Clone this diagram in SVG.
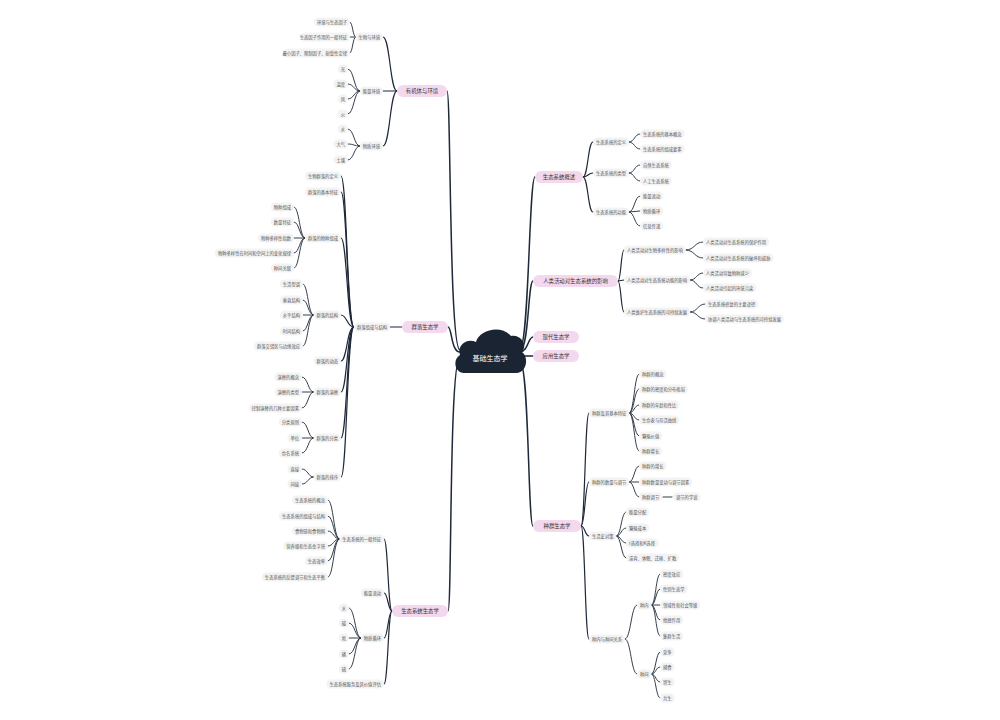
<svg xmlns="http://www.w3.org/2000/svg" width="1000" height="720" viewBox="0 0 1000 720">
<style>
.bg{fill:#ffffff}
.p{fill:#f3f3f3}
.t{font-family:"Noto Sans CJK SC","Noto Sans",sans-serif;font-size:4.3px;fill:#555555;dominant-baseline:central}
.e{text-anchor:end}
.b{fill:#f4d8ee}
.bt{font-family:"Noto Sans CJK SC","Noto Sans",sans-serif;font-size:5.4px;fill:#333333;text-anchor:middle;dominant-baseline:central}
.rt{font-family:"Noto Sans CJK SC","Noto Sans",sans-serif;font-size:7px;fill:#ffffff;text-anchor:middle;dominant-baseline:central}
.c0{fill:none;stroke:#1e2838;stroke-width:1.5;stroke-linecap:round}
.c1{fill:none;stroke:#1e2838;stroke-width:1.2;stroke-linecap:round}
.c2{fill:none;stroke:#1e2838;stroke-width:0.9;stroke-linecap:round}
</style>
<rect class="bg" x="0" y="0" width="1000" height="720"/>
<g id="connectors">
<!-- trunk -->
<path class="c0" d="M460,350 C449,350 451,91 447,91"/>
<path class="c0" d="M460,352 C451,352 452,327 448,327"/>
<path class="c0" d="M460,358 C449,358 452,611 448,611"/>
<path class="c0" d="M520,348 C529,348 529,177 535,177"/>
<path class="c0" d="M520,350 C529,350 528,281 533,281"/>
<path class="c0" d="M520,352 C528,352 528,337 533,337"/>
<path class="c0" d="M520,356 C527,356 528,356 533,356"/>
<path class="c0" d="M520,362 C529,362 528,526 533,526"/>
<!-- A -->
<path class="c1" d="M397,91 C390,91 390,37 383,37"/>
<path class="c1" d="M397,91 C390,91 390,91 383,91"/>
<path class="c1" d="M397,91 C390,91 390,146 383,146"/>
<path class="c2" d="M355.5,37 C352.7,37 352.7,22 350,22"/>
<path class="c2" d="M355.5,37 L350,37"/>
<path class="c2" d="M355.5,37 C352.7,37 352.7,53 350,53"/>
<path class="c2" d="M359.8,91 C354,91 354,69 348,69"/>
<path class="c2" d="M359.8,91 C354,91 354,84 348,84"/>
<path class="c2" d="M359.8,91 C354,91 354,99 348,99"/>
<path class="c2" d="M359.8,91 C354,91 354,114 348,114"/>
<path class="c2" d="M359.8,146 C354,146 354,129 348,129"/>
<path class="c2" d="M359.8,146 C354,146 354,144 348,144"/>
<path class="c2" d="M359.8,146 C354,146 354,160 348,160"/>
<!-- B -->
<path class="c1" d="M402,327 L390,327"/>
<path class="c1" d="M353.9,327 C347,327 347,176 341,176"/>
<path class="c1" d="M353.9,327 C347,327 347,192 341,192"/>
<path class="c1" d="M353.9,327 C347,327 347,238 341,238"/>
<path class="c1" d="M353.9,327 C347,327 347,315 341,315"/>
<path class="c1" d="M353.9,327 C347,327 347,361 341,361"/>
<path class="c1" d="M353.9,327 C347,327 347,392 341,392"/>
<path class="c1" d="M353.9,327 C347,327 347,438 341,438"/>
<path class="c1" d="M353.9,327 C347,327 347,477 341,477"/>
<path class="c2" d="M304.9,238 C299.5,238 299.5,207 294,207"/>
<path class="c2" d="M304.9,238 C299.5,238 299.5,222 294,222"/>
<path class="c2" d="M304.9,238 L294,238"/>
<path class="c2" d="M304.9,238 C299.5,238 299.5,253 294,253"/>
<path class="c2" d="M304.9,238 C299.5,238 299.5,268 294,268"/>
<path class="c2" d="M313.5,315 C308,315 308,284 303,284"/>
<path class="c2" d="M313.5,315 C308,315 308,300 303,300"/>
<path class="c2" d="M313.5,315 L303,315"/>
<path class="c2" d="M313.5,315 C308,315 308,331 303,331"/>
<path class="c2" d="M313.5,315 C308,315 308,346 303,346"/>
<path class="c2" d="M313.5,392 C308,392 308,377 302,377"/>
<path class="c2" d="M313.5,392 L302,392"/>
<path class="c2" d="M313.5,392 C308,392 308,408 302,408"/>
<path class="c2" d="M313.5,438 C308,438 308,422 302,422"/>
<path class="c2" d="M313.5,438 L302,438"/>
<path class="c2" d="M313.5,438 C308,438 308,453 302,453"/>
<path class="c2" d="M313.5,477 C308,477 308,469 302,469"/>
<path class="c2" d="M313.5,477 C308,477 308,484 302,484"/>
<!-- C -->
<path class="c1" d="M392,611 C388,611 388,539 384,539"/>
<path class="c1" d="M392,611 C388,611 388,593 384,593"/>
<path class="c1" d="M392,611 C388,611 388,638 384,638"/>
<path class="c1" d="M392,611 C388,611 388,684 384,684"/>
<path class="c2" d="M339.3,539 C333.6,539 333.6,500 328,500"/>
<path class="c2" d="M339.3,539 C333.6,539 333.6,516 328,516"/>
<path class="c2" d="M339.3,539 C333.6,539 333.6,531 328,531"/>
<path class="c2" d="M339.3,539 C333.6,539 333.6,546 328,546"/>
<path class="c2" d="M339.3,539 C333.6,539 333.6,561 328,561"/>
<path class="c2" d="M339.3,539 C333.6,539 333.6,577 328,577"/>
<path class="c2" d="M360.8,638 C355,638 355,608 349,608"/>
<path class="c2" d="M360.8,638 C355,638 355,623 349,623"/>
<path class="c2" d="M360.8,638 L349,638"/>
<path class="c2" d="M360.8,638 C355,638 355,654 349,654"/>
<path class="c2" d="M360.8,638 C355,638 355,669 349,669"/>
<!-- D -->
<path class="c1" d="M583,177 C588,177 588,142 593,142"/>
<path class="c1" d="M583,177 C588,177 588,173 593,173"/>
<path class="c1" d="M583,177 C588,177 588,212 593,212"/>
<path class="c2" d="M629.1,142 C634.5,142 634.5,134 640,134"/>
<path class="c2" d="M629.1,142 C634.5,142 634.5,149 640,149"/>
<path class="c2" d="M629.1,173 C634.5,173 634.5,165 640,165"/>
<path class="c2" d="M629.1,173 C634.5,173 634.5,181 640,181"/>
<path class="c2" d="M629.1,212 C634.5,212 634.5,196 640,196"/>
<path class="c2" d="M629.1,212 L640,211"/>
<path class="c2" d="M629.1,212 C634.5,212 634.5,226 640,226"/>
<!-- E -->
<path class="c1" d="M618,281 C621,281 621,250 624,250"/>
<path class="c1" d="M618,281 L624,280"/>
<path class="c1" d="M618,281 C621,281 621,312 624,312"/>
<path class="c2" d="M686,250 C694.5,250 694.5,242 703,242"/>
<path class="c2" d="M686,250 C694.5,250 694.5,258 703,258"/>
<path class="c2" d="M690.2,280 C696.6,280 696.6,273 703,273"/>
<path class="c2" d="M690.2,280 C696.6,280 696.6,288 703,288"/>
<path class="c2" d="M690.2,312 C697.6,312 697.6,304 705,304"/>
<path class="c2" d="M690.2,312 C697.6,312 697.6,319 705,319"/>
<!-- H -->
<path class="c1" d="M581,526 C585,526 585,413 589,413"/>
<path class="c1" d="M581,526 C585,526 585,482 589,482"/>
<path class="c1" d="M581,526 C585,526 585,536 589,536"/>
<path class="c1" d="M581,526 C585,526 585,639 589,639"/>
<path class="c2" d="M629.4,413 C634.2,413 634.2,374 639,374"/>
<path class="c2" d="M629.4,413 C634.2,413 634.2,389 639,389"/>
<path class="c2" d="M629.4,413 C634.2,413 634.2,405 639,405"/>
<path class="c2" d="M629.4,413 C634.2,413 634.2,420 639,420"/>
<path class="c2" d="M629.4,413 C634.2,413 634.2,436 639,436"/>
<path class="c2" d="M629.4,413 C634.2,413 634.2,451 639,451"/>
<path class="c2" d="M629.4,482 C634.2,482 634.2,466 639,466"/>
<path class="c2" d="M629.4,482 L639,482"/>
<path class="c2" d="M629.4,482 C634.2,482 634.2,497 639,497"/>
<path class="c2" d="M663,497 L672,497"/>
<path class="c2" d="M616.5,536 C621.2,536 621.2,512 626,512"/>
<path class="c2" d="M616.5,536 C621.2,536 621.2,528 626,528"/>
<path class="c2" d="M616.5,536 C621.2,536 621.2,543 626,543"/>
<path class="c2" d="M616.5,536 C621.2,536 621.2,558 626,558"/>
<path class="c2" d="M625.1,639 C631,639 631,605 637,605"/>
<path class="c2" d="M625.1,639 C631,639 631,674 637,674"/>
<path class="c2" d="M651.6,605 C655.8,605 655.8,574 660,574"/>
<path class="c2" d="M651.6,605 C655.8,605 655.8,589 660,589"/>
<path class="c2" d="M651.6,605 L660,605"/>
<path class="c2" d="M651.6,605 C655.8,605 655.8,620 660,620"/>
<path class="c2" d="M651.6,605 C655.8,605 655.8,636 660,636"/>
<path class="c2" d="M651.6,674 C655.8,674 655.8,652 660,652"/>
<path class="c2" d="M651.6,674 C655.8,674 655.8,667 660,667"/>
<path class="c2" d="M651.6,674 C655.8,674 655.8,682 660,682"/>
<path class="c2" d="M651.6,674 C655.8,674 655.8,698 660,698"/>
</g>

<g id="root">
<path fill="#1b2433" d="M464,373 C455,373 452,360 460,355 C457,345 467,338 476,342 C479,330 501,324 511,336 C521,334 528,345 522,352 C529,357 527,373 516,373 Z"/>
<text class="rt" x="490" y="358">基础生态学</text>
</g>

<!-- LEFT: 有机体与环境 -->
<g id="n-organism"><rect class="b" x="397" y="85" width="50" height="12" rx="6"/><text class="bt" x="422" y="91">有机体与环境</text></g>
<g id="n-a1"><rect class="p" x="355.5" y="32.5" width="27.5" height="9" rx="4.5"/><text class="t e" x="380" y="37">生物与环境</text></g>
<g id="n-a2"><rect class="p" x="359.8" y="86.5" width="23.2" height="9" rx="4.5"/><text class="t e" x="380" y="91">能量环境</text></g>
<g id="n-a3"><rect class="p" x="359.8" y="141.5" width="23.2" height="9" rx="4.5"/><text class="t e" x="380" y="146">物质环境</text></g>
<g id="n-a1-1"><rect class="p" x="313.9" y="17.5" width="36.1" height="9" rx="4.5"/><text class="t e" x="347" y="22">环境与生态因子</text></g>
<g id="n-a1-2"><rect class="p" x="301" y="32.5" width="49" height="9" rx="4.5"/><text class="t e" x="347" y="37">生态因子作用的一般特征</text></g>
<g id="n-a1-3"><rect class="p" x="283.8" y="48.5" width="66.2" height="9" rx="4.5"/><text class="t e" x="347" y="53">最小因子、限制因子、耐受性定律</text></g>
<g id="n-a2-1"><rect class="p" x="337.7" y="64.5" width="10.3" height="9" rx="4.5"/><text class="t e" x="345" y="69">光</text></g>
<g id="n-a2-2"><rect class="p" x="333.4" y="79.5" width="14.6" height="9" rx="4.5"/><text class="t e" x="345" y="84">温度</text></g>
<g id="n-a2-3"><rect class="p" x="337.7" y="94.5" width="10.3" height="9" rx="4.5"/><text class="t e" x="345" y="99">风</text></g>
<g id="n-a2-4"><rect class="p" x="337.7" y="109.5" width="10.3" height="9" rx="4.5"/><text class="t e" x="345" y="114">火</text></g>
<g id="n-a3-1"><rect class="p" x="337.7" y="124.5" width="10.3" height="9" rx="4.5"/><text class="t e" x="345" y="129">水</text></g>
<g id="n-a3-2"><rect class="p" x="333.4" y="139.5" width="14.6" height="9" rx="4.5"/><text class="t e" x="345" y="144">大气</text></g>
<g id="n-a3-3"><rect class="p" x="333.4" y="155.5" width="14.6" height="9" rx="4.5"/><text class="t e" x="345" y="160">土壤</text></g>

<!-- LEFT: 群落生态学 -->
<g id="n-community"><rect class="b" x="402" y="321" width="46" height="12" rx="6"/><text class="bt" x="425" y="327">群落生态学</text></g>
<g id="n-b0"><rect class="p" x="353.9" y="322.5" width="36.1" height="9" rx="4.5"/><text class="t e" x="387" y="327">群落组成与结构</text></g>
<g id="n-b1"><rect class="p" x="304.9" y="171.5" width="36.1" height="9" rx="4.5"/><text class="t e" x="338" y="176">生物群落的定义</text></g>
<g id="n-b2"><rect class="p" x="304.9" y="187.5" width="36.1" height="9" rx="4.5"/><text class="t e" x="338" y="192">群落的基本特征</text></g>
<g id="n-b3"><rect class="p" x="304.9" y="233.5" width="36.1" height="9" rx="4.5"/><text class="t e" x="338" y="238">群落的物种组成</text></g>
<g id="n-b4"><rect class="p" x="313.5" y="310.5" width="27.5" height="9" rx="4.5"/><text class="t e" x="338" y="315">群落的结构</text></g>
<g id="n-b5"><rect class="p" x="313.5" y="356.5" width="27.5" height="9" rx="4.5"/><text class="t e" x="338" y="361">群落的动态</text></g>
<g id="n-b6"><rect class="p" x="313.5" y="387.5" width="27.5" height="9" rx="4.5"/><text class="t e" x="338" y="392">群落的演替</text></g>
<g id="n-b7"><rect class="p" x="313.5" y="433.5" width="27.5" height="9" rx="4.5"/><text class="t e" x="338" y="438">群落的分类</text></g>
<g id="n-b8"><rect class="p" x="313.5" y="472.5" width="27.5" height="9" rx="4.5"/><text class="t e" x="338" y="477">群落的排序</text></g>
<g id="n-b3-1"><rect class="p" x="270.8" y="202.5" width="23.2" height="9" rx="4.5"/><text class="t e" x="291" y="207">物种组成</text></g>
<g id="n-b3-2"><rect class="p" x="270.8" y="217.5" width="23.2" height="9" rx="4.5"/><text class="t e" x="291" y="222">数量特征</text></g>
<g id="n-b3-3"><rect class="p" x="257.9" y="233.5" width="36.1" height="9" rx="4.5"/><text class="t e" x="291" y="238">物种多样性指数</text></g>
<g id="n-b3-4"><rect class="p" x="214.9" y="248.5" width="79.1" height="9" rx="4.5"/><text class="t e" x="291" y="253">物种多样性在时间和空间上的变化规律</text></g>
<g id="n-b3-5"><rect class="p" x="270.8" y="263.5" width="23.2" height="9" rx="4.5"/><text class="t e" x="291" y="268">种间关联</text></g>
<g id="n-b4-1"><rect class="p" x="279.8" y="279.5" width="23.2" height="9" rx="4.5"/><text class="t e" x="300" y="284">生活型谱</text></g>
<g id="n-b4-2"><rect class="p" x="279.8" y="295.5" width="23.2" height="9" rx="4.5"/><text class="t e" x="300" y="300">垂直结构</text></g>
<g id="n-b4-3"><rect class="p" x="279.8" y="310.5" width="23.2" height="9" rx="4.5"/><text class="t e" x="300" y="315">水平结构</text></g>
<g id="n-b4-4"><rect class="p" x="279.8" y="326.5" width="23.2" height="9" rx="4.5"/><text class="t e" x="300" y="331">时间结构</text></g>
<g id="n-b4-5"><rect class="p" x="254" y="341.5" width="49" height="9" rx="4.5"/><text class="t e" x="300" y="346">群落交错区与边缘效应</text></g>
<g id="n-b6-1"><rect class="p" x="274.5" y="372.5" width="27.5" height="9" rx="4.5"/><text class="t e" x="299" y="377">演替的概念</text></g>
<g id="n-b6-2"><rect class="p" x="274.5" y="387.5" width="27.5" height="9" rx="4.5"/><text class="t e" x="299" y="392">演替的类型</text></g>
<g id="n-b6-3"><rect class="p" x="248.7" y="403.5" width="53.3" height="9" rx="4.5"/><text class="t e" x="299" y="408">控制演替的几种主要因素</text></g>
<g id="n-b7-1"><rect class="p" x="278.8" y="417.5" width="23.2" height="9" rx="4.5"/><text class="t e" x="299" y="422">分类原则</text></g>
<g id="n-b7-2"><rect class="p" x="287.4" y="433.5" width="14.6" height="9" rx="4.5"/><text class="t e" x="299" y="438">单位</text></g>
<g id="n-b7-3"><rect class="p" x="278.8" y="448.5" width="23.2" height="9" rx="4.5"/><text class="t e" x="299" y="453">命名系统</text></g>
<g id="n-b8-1"><rect class="p" x="287.4" y="464.5" width="14.6" height="9" rx="4.5"/><text class="t e" x="299" y="469">直接</text></g>
<g id="n-b8-2"><rect class="p" x="287.4" y="479.5" width="14.6" height="9" rx="4.5"/><text class="t e" x="299" y="484">间接</text></g>

<!-- LEFT: 生态系统生态学 -->
<g id="n-ecosystem"><rect class="b" x="392" y="605" width="56" height="12" rx="6"/><text class="bt" x="420" y="611">生态系统生态学</text></g>
<g id="n-c1"><rect class="p" x="339.3" y="534.5" width="44.7" height="9" rx="4.5"/><text class="t e" x="381" y="539">生态系统的一般特征</text></g>
<g id="n-c2"><rect class="p" x="360.8" y="588.5" width="23.2" height="9" rx="4.5"/><text class="t e" x="381" y="593">能量流动</text></g>
<g id="n-c3"><rect class="p" x="360.8" y="633.5" width="23.2" height="9" rx="4.5"/><text class="t e" x="381" y="638">物质循环</text></g>
<g id="n-c4"><rect class="p" x="326.4" y="679.5" width="57.6" height="9" rx="4.5"/><text class="t e" x="381" y="684">生态系统服务及其价值评估</text></g>
<g id="n-c1-1"><rect class="p" x="291.9" y="495.5" width="36.1" height="9" rx="4.5"/><text class="t e" x="325" y="500">生态系统的概念</text></g>
<g id="n-c1-2"><rect class="p" x="279" y="511.5" width="49" height="9" rx="4.5"/><text class="t e" x="325" y="516">生态系统的组成与结构</text></g>
<g id="n-c1-3"><rect class="p" x="291.9" y="526.5" width="36.1" height="9" rx="4.5"/><text class="t e" x="325" y="531">食物链和食物网</text></g>
<g id="n-c1-4"><rect class="p" x="283.3" y="541.5" width="44.7" height="9" rx="4.5"/><text class="t e" x="325" y="546">营养级和生态金字塔</text></g>
<g id="n-c1-5"><rect class="p" x="304.8" y="556.5" width="23.2" height="9" rx="4.5"/><text class="t e" x="325" y="561">生态效率</text></g>
<g id="n-c1-6"><rect class="p" x="261.8" y="572.5" width="66.2" height="9" rx="4.5"/><text class="t e" x="325" y="577">生态系统的反馈调节和生态平衡</text></g>
<g id="n-c3-1"><rect class="p" x="338.7" y="603.5" width="10.3" height="9" rx="4.5"/><text class="t e" x="346" y="608">水</text></g>
<g id="n-c3-2"><rect class="p" x="338.7" y="618.5" width="10.3" height="9" rx="4.5"/><text class="t e" x="346" y="623">碳</text></g>
<g id="n-c3-3"><rect class="p" x="338.7" y="633.5" width="10.3" height="9" rx="4.5"/><text class="t e" x="346" y="638">氮</text></g>
<g id="n-c3-4"><rect class="p" x="338.7" y="649.5" width="10.3" height="9" rx="4.5"/><text class="t e" x="346" y="654">磷</text></g>
<g id="n-c3-5"><rect class="p" x="338.7" y="664.5" width="10.3" height="9" rx="4.5"/><text class="t e" x="346" y="669">硫</text></g>

<!-- RIGHT: 生态系统概述 -->
<g id="n-overview"><rect class="b" x="535" y="171" width="48" height="12" rx="6"/><text class="bt" x="559" y="177">生态系统概述</text></g>
<g id="n-d1"><rect class="p" x="593" y="137.5" width="36.1" height="9" rx="4.5"/><text class="t" x="596" y="142">生态系统的定义</text></g>
<g id="n-d2"><rect class="p" x="593" y="168.5" width="36.1" height="9" rx="4.5"/><text class="t" x="596" y="173">生态系统的类型</text></g>
<g id="n-d3"><rect class="p" x="593" y="207.5" width="36.1" height="9" rx="4.5"/><text class="t" x="596" y="212">生态系统的功能</text></g>
<g id="n-d1-1"><rect class="p" x="640" y="129.5" width="44.7" height="9" rx="4.5"/><text class="t" x="643" y="134">生态系统的基本概念</text></g>
<g id="n-d1-2"><rect class="p" x="640" y="144.5" width="44.7" height="9" rx="4.5"/><text class="t" x="643" y="149">生态系统的组成要素</text></g>
<g id="n-d2-1"><rect class="p" x="640" y="160.5" width="31.8" height="9" rx="4.5"/><text class="t" x="643" y="165">自然生态系统</text></g>
<g id="n-d2-2"><rect class="p" x="640" y="176.5" width="31.8" height="9" rx="4.5"/><text class="t" x="643" y="181">人工生态系统</text></g>
<g id="n-d3-1"><rect class="p" x="640" y="191.5" width="23.2" height="9" rx="4.5"/><text class="t" x="643" y="196">能量流动</text></g>
<g id="n-d3-2"><rect class="p" x="640" y="206.5" width="23.2" height="9" rx="4.5"/><text class="t" x="643" y="211">物质循环</text></g>
<g id="n-d3-3"><rect class="p" x="640" y="221.5" width="23.2" height="9" rx="4.5"/><text class="t" x="643" y="226">信息传递</text></g>

<!-- RIGHT: 人类活动对生态系统的影响 -->
<g id="n-human"><rect class="b" x="533" y="275" width="85" height="12" rx="6"/><text class="bt" x="575.5" y="281">人类活动对生态系统的影响</text></g>
<g id="n-e1"><rect class="p" x="624" y="245.5" width="61.9" height="9" rx="4.5"/><text class="t" x="627" y="250">人类活动对生物多样性的影响</text></g>
<g id="n-e2"><rect class="p" x="624" y="275.5" width="66.2" height="9" rx="4.5"/><text class="t" x="627" y="280">人类活动对生态系统功能的影响</text></g>
<g id="n-e3"><rect class="p" x="624" y="307.5" width="66.2" height="9" rx="4.5"/><text class="t" x="627" y="312">人类维护生态系统的可持续发展</text></g>
<g id="n-e1-1"><rect class="p" x="703" y="237.5" width="66.2" height="9" rx="4.5"/><text class="t" x="706" y="242">人类活动对生态系统的保护作用</text></g>
<g id="n-e1-2"><rect class="p" x="703" y="253.5" width="70.5" height="9" rx="4.5"/><text class="t" x="706" y="258">人类活动对生态系统的破坏和威胁</text></g>
<g id="n-e2-1"><rect class="p" x="703" y="268.5" width="49" height="9" rx="4.5"/><text class="t" x="706" y="273">人类活动导致物种减少</text></g>
<g id="n-e2-2"><rect class="p" x="703" y="283.5" width="53.3" height="9" rx="4.5"/><text class="t" x="706" y="288">人类活动引起的环境污染</text></g>
<g id="n-e3-1"><rect class="p" x="705" y="299.5" width="53.3" height="9" rx="4.5"/><text class="t" x="708" y="304">生态系统修复的主要途径</text></g>
<g id="n-e3-2"><rect class="p" x="705" y="314.5" width="79.1" height="9" rx="4.5"/><text class="t" x="708" y="319">协调人类活动与生态系统的可持续发展</text></g>

<!-- RIGHT: 现代生态学 / 应用生态学 -->
<g id="n-modern"><rect class="b" x="533" y="331" width="46" height="12" rx="6"/><text class="bt" x="556" y="337">现代生态学</text></g>
<g id="n-applied"><rect class="b" x="533" y="350" width="46" height="12" rx="6"/><text class="bt" x="556" y="356">应用生态学</text></g>

<!-- RIGHT: 种群生态学 -->
<g id="n-population"><rect class="b" x="533" y="520" width="48" height="12" rx="6"/><text class="bt" x="557" y="526">种群生态学</text></g>
<g id="n-h1"><rect class="p" x="589" y="408.5" width="40.4" height="9" rx="4.5"/><text class="t" x="592" y="413">种群及其基本特征</text></g>
<g id="n-h2"><rect class="p" x="589" y="477.5" width="40.4" height="9" rx="4.5"/><text class="t" x="592" y="482">种群的数量与调节</text></g>
<g id="n-h3"><rect class="p" x="589" y="531.5" width="27.5" height="9" rx="4.5"/><text class="t" x="592" y="536">生活史对策</text></g>
<g id="n-h4"><rect class="p" x="589" y="634.5" width="36.1" height="9" rx="4.5"/><text class="t" x="592" y="639">种内与种间关系</text></g>
<g id="n-h1-1"><rect class="p" x="639" y="369.5" width="27.5" height="9" rx="4.5"/><text class="t" x="642" y="374">种群的概念</text></g>
<g id="n-h1-2"><rect class="p" x="639" y="384.5" width="49" height="9" rx="4.5"/><text class="t" x="642" y="389">种群的密度和分布格局</text></g>
<g id="n-h1-3"><rect class="p" x="639" y="400.5" width="40.4" height="9" rx="4.5"/><text class="t" x="642" y="405">种群的年龄和性比</text></g>
<g id="n-h1-4"><rect class="p" x="639" y="415.5" width="40.4" height="9" rx="4.5"/><text class="t" x="642" y="420">生命表与存活曲线</text></g>
<g id="n-h1-5"><rect class="p" x="639" y="431.5" width="23.2" height="9" rx="4.5"/><text class="t" x="642" y="436">繁殖价值</text></g>
<g id="n-h1-6"><rect class="p" x="639" y="446.5" width="23.2" height="9" rx="4.5"/><text class="t" x="642" y="451">种群增长</text></g>
<g id="n-h2-1"><rect class="p" x="639" y="461.5" width="27.5" height="9" rx="4.5"/><text class="t" x="642" y="466">种群的增长</text></g>
<g id="n-h2-2"><rect class="p" x="639" y="477.5" width="53.3" height="9" rx="4.5"/><text class="t" x="642" y="482">种群数量变动与调节因素</text></g>
<g id="n-h2-3"><rect class="p" x="639" y="492.5" width="23.2" height="9" rx="4.5"/><text class="t" x="642" y="497">种群调节</text></g>
<g id="n-h2-3-1"><rect class="p" x="673" y="492.5" width="27.5" height="9" rx="4.5"/><text class="t" x="676" y="497">调节的学说</text></g>
<g id="n-h3-1"><rect class="p" x="626" y="507.5" width="23.2" height="9" rx="4.5"/><text class="t" x="629" y="512">能量分配</text></g>
<g id="n-h3-2"><rect class="p" x="626" y="523.5" width="23.2" height="9" rx="4.5"/><text class="t" x="629" y="528">繁殖成本</text></g>
<g id="n-h3-3"><rect class="p" x="626" y="538.5" width="32.7" height="9" rx="4.5"/><text class="t" x="629" y="543">r选择和K选择</text></g>
<g id="n-h3-4"><rect class="p" x="626" y="553.5" width="53.3" height="9" rx="4.5"/><text class="t" x="629" y="558">滞育、休眠、迁移、扩散</text></g>
<g id="n-h4-1"><rect class="p" x="637" y="600.5" width="14.6" height="9" rx="4.5"/><text class="t" x="640" y="605">种内</text></g>
<g id="n-h4-2"><rect class="p" x="637" y="669.5" width="14.6" height="9" rx="4.5"/><text class="t" x="640" y="674">种间</text></g>
<g id="n-h4-1-1"><rect class="p" x="660" y="569.5" width="23.2" height="9" rx="4.5"/><text class="t" x="663" y="574">密度效应</text></g>
<g id="n-h4-1-2"><rect class="p" x="660" y="584.5" width="27.5" height="9" rx="4.5"/><text class="t" x="663" y="589">性别生态学</text></g>
<g id="n-h4-1-3"><rect class="p" x="660" y="600.5" width="40.4" height="9" rx="4.5"/><text class="t" x="663" y="605">领域性和社会等级</text></g>
<g id="n-h4-1-4"><rect class="p" x="660" y="615.5" width="23.2" height="9" rx="4.5"/><text class="t" x="663" y="620">他感作用</text></g>
<g id="n-h4-1-5"><rect class="p" x="660" y="631.5" width="23.2" height="9" rx="4.5"/><text class="t" x="663" y="636">集群生活</text></g>
<g id="n-h4-2-1"><rect class="p" x="660" y="647.5" width="14.6" height="9" rx="4.5"/><text class="t" x="663" y="652">竞争</text></g>
<g id="n-h4-2-2"><rect class="p" x="660" y="662.5" width="14.6" height="9" rx="4.5"/><text class="t" x="663" y="667">捕食</text></g>
<g id="n-h4-2-3"><rect class="p" x="660" y="677.5" width="14.6" height="9" rx="4.5"/><text class="t" x="663" y="682">寄生</text></g>
<g id="n-h4-2-4"><rect class="p" x="660" y="693.5" width="14.6" height="9" rx="4.5"/><text class="t" x="663" y="698">共生</text></g>
</svg>
